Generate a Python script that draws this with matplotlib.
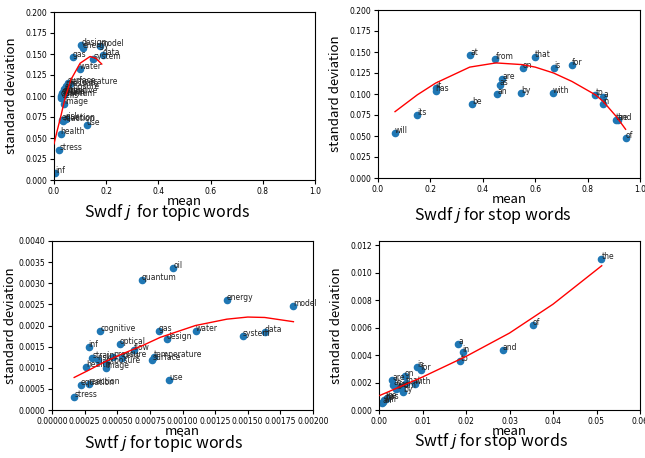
import numpy as np
import matplotlib
matplotlib.use('Agg')
import matplotlib.pyplot as plt

# Swdf topic words
topic_words = ['design', 'energy', 'model', 'data', 'system', 'gas', 'water', 'surface',
               'temperature', 'pressure', 'exposure', 'cognitive', 'optical', 'quantum',
               'cells', 'strain', 'flow', 'oil', 'image', 'risk', 'equation', 'reaction',
               'use', 'health', 'stress', 'inf']
swdf_topic_mean = [0.105, 0.110, 0.178, 0.188, 0.150, 0.072, 0.098, 0.052,
                   0.060, 0.045, 0.040, 0.032, 0.030, 0.025,
                   0.028, 0.038, 0.042, 0.035, 0.040, 0.045, 0.030, 0.035,
                   0.125, 0.025, 0.020, 0.003]
swdf_topic_std = [0.161, 0.157, 0.159, 0.149, 0.144, 0.146, 0.132, 0.115,
                  0.114, 0.112, 0.108, 0.104, 0.102, 0.100,
                  0.098, 0.101, 0.103, 0.102, 0.091, 0.073, 0.071, 0.070,
                  0.065, 0.055, 0.036, 0.008]
swdf_topic_fit_x = [0.0, 0.01, 0.027, 0.042, 0.064, 0.10, 0.138, 0.16, 0.183]
swdf_topic_fit_y = [0.043, 0.056, 0.077, 0.097, 0.119, 0.139, 0.147, 0.145, 0.138]

# Swtf topic words
swtf_topic_mean = [0.00088, 0.00134, 0.00185, 0.00163, 0.00146, 0.00082, 0.00110, 0.00077,
                   0.00078, 0.00047, 0.00041, 0.00037, 0.00052, 0.00069,
                   0.00054, 0.00031, 0.00063, 0.00093, 0.00041, 0.00035, 0.00022, 0.00028,
                   0.00090, 0.00026, 0.00017, 0.00028]
swtf_topic_std = [0.00167, 0.00261, 0.00245, 0.00184, 0.00175, 0.00186, 0.00186, 0.00118,
                  0.00125, 0.00126, 0.00112, 0.00187, 0.00156, 0.00307,
                  0.00124, 0.00124, 0.00141, 0.00337, 0.00100, 0.00118, 0.00060, 0.00061,
                  0.00071, 0.00102, 0.00030, 0.00148]
swtf_topic_fit_x = [0.00017, 0.00028, 0.00041, 0.00054, 0.00069, 0.00083, 0.0011,
                    0.00134, 0.0015, 0.00163, 0.00185]
swtf_topic_fit_y = [0.00077, 0.00094, 0.00115, 0.00133, 0.00152, 0.00172, 0.00200,
                    0.00215, 0.00220, 0.00219, 0.00209]

# stop words
stop_words = ['will', 'its', 'it', 'has', 'at', 'be', 'from', 'an', 'as', 'are', 'by', 'on',
              'that', 'with', 'is', 'for', 'to', 'a', 'in', 'the', 'and', 'of']
swdf_stop_mean = [0.065, 0.150, 0.222, 0.220, 0.352, 0.360, 0.448, 0.455, 0.465, 0.475,
                  0.547, 0.552, 0.598, 0.668, 0.672, 0.740, 0.830, 0.860, 0.857, 0.908,
                  0.915, 0.946]
swdf_stop_std = [0.053, 0.075, 0.107, 0.104, 0.146, 0.088, 0.142, 0.100, 0.111, 0.118,
                 0.101, 0.131, 0.144, 0.101, 0.131, 0.134, 0.099, 0.096, 0.088, 0.069,
                 0.069, 0.048]
swdf_stop_fit_x = [0.065, 0.15, 0.22, 0.35, 0.45, 0.55, 0.60, 0.67, 0.74, 0.83, 0.86,
                   0.91, 0.945]
swdf_stop_fit_y = [0.079, 0.099, 0.113, 0.132, 0.137, 0.135, 0.132, 0.125, 0.115, 0.099,
                   0.091, 0.073, 0.058]

swtf_stop_mean = [0.0010, 0.0012, 0.0040, 0.0015, 0.0033, 0.0018, 0.0045, 0.0008, 0.0050,
                  0.0030, 0.0055, 0.0060, 0.0062, 0.0082, 0.0087, 0.0097, 0.0187, 0.0182,
                  0.0192, 0.0511, 0.0284, 0.0353]
swtf_stop_std = [0.0006, 0.0007, 0.0015, 0.0008, 0.0018, 0.0009, 0.0016, 0.0005, 0.0017,
                 0.0022, 0.0013, 0.0025, 0.0020, 0.0019, 0.0031, 0.0029, 0.0036, 0.0048,
                 0.0042, 0.0110, 0.0044, 0.0062]
swtf_stop_fit_x = [0.0002, 0.01, 0.02, 0.03, 0.04, 0.0512]
swtf_stop_fit_y = [0.00106, 0.0024, 0.0039, 0.0056, 0.0077, 0.0105]

cjk = ['Noto Sans CJK SC', 'DejaVu Sans']

fig = plt.figure(figsize=(6.45, 4.58), dpi=100)

def draw(rect, words, x, y, fx, fy, xlim, ylim, caption, cap_xy, ypad=5):
    ax = fig.add_axes(rect)
    ax.scatter(x, y, s=20, color='#1f77b4', zorder=2)
    for w, a, b in zip(words, x, y):
        ax.annotate(w, (a, b), fontsize=5.5, color='#222222')
    ax.plot(fx, fy, color='red', lw=1, zorder=3)
    ax.set_xlim(xlim)
    ax.set_ylim(ylim)
    ax.tick_params(labelsize=5.5, pad=2, length=3)
    ax.set_xlabel('mean', family=cjk, fontsize=9.5, labelpad=-1)
    ax.set_ylabel('standard deviation', family=cjk, fontsize=9.5, labelpad=ypad)
    fig.text(cap_xy[0], cap_xy[1], caption, family=cjk, fontsize=11.5,
             ha='center', va='center')
    return ax

W, H = 645, 458
def r(l, t, rr, b):
    return [l / W, 1 - b / H, (rr - l) / W, (b - t) / H]

draw(r(54, 12, 315, 180), topic_words, swdf_topic_mean, swdf_topic_std,
     swdf_topic_fit_x, swdf_topic_fit_y,
     (0, 1), (0, 0.2), 'Swdf $j$  for topic words', (167 / W, 1 - 213 / H))
draw(r(378, 10, 640, 178), stop_words, swdf_stop_mean, swdf_stop_std,
     swdf_stop_fit_x, swdf_stop_fit_y,
     (0, 1), (0, 0.2), 'Swdf $j$ for stop words', (493 / W, 1 - 215 / H))
ax3 = draw(r(52, 241, 313, 410), topic_words, swtf_topic_mean, swtf_topic_std,
           swtf_topic_fit_x, swtf_topic_fit_y,
           (0, 0.002), (0, 0.004), 'Swtf $j$ for topic words', (163 / W, 1 - 444 / H),
           ypad=1)
ax4 = draw(r(379, 241, 640, 410), stop_words, swtf_stop_mean, swtf_stop_std,
           swtf_stop_fit_x, swtf_stop_fit_y,
           (0, 0.06), (0, 0.0123), 'Swtf $j$ for stop words', (491 / W, 1 - 442 / H))
ticks3 = np.arange(0, 0.00201, 0.00025)
ax3.set_xticks(ticks3)
ax3.set_xticklabels(['%.5f' % v for v in ticks3])

plt.savefig('out.png', dpi=100)
